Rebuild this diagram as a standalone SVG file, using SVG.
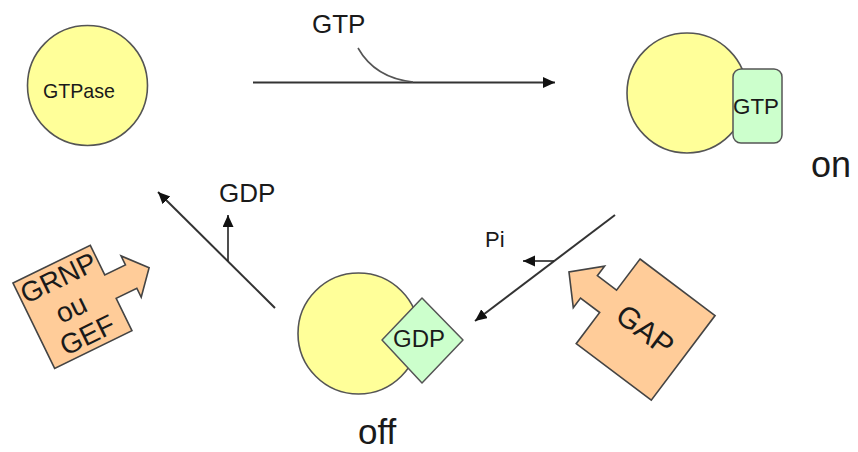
<svg xmlns="http://www.w3.org/2000/svg" width="858" height="452" viewBox="0 0 858 452">
<defs>
<style>
text{font-family:"Liberation Sans",Arial,sans-serif;fill:#1a1a1a}
.prot{fill:#ffff99;stroke:#555;stroke-width:1.6}
.nuc{fill:#ccffcc;stroke:#555;stroke-width:1.5}
.fac{fill:#ffcc99;stroke:#444;stroke-width:1.6}
.ln{fill:none;stroke:#333;stroke-width:2}
.sm{fill:none;stroke:#222;stroke-width:1.6}
</style>
<marker id="ah" markerWidth="13" markerHeight="12" refX="12" refY="5.5" orient="auto" markerUnits="userSpaceOnUse">
<path d="M0,0 L12,5.5 L0,11 z" fill="#111"/>
</marker>
</defs>
<rect width="858" height="452" fill="#fff"/>

<g id="gtpase">
<circle class="prot" cx="87.5" cy="85.5" r="60"/>
<text x="43" y="98" font-size="21" textLength="72" lengthAdjust="spacingAndGlyphs">GTPase</text>
</g>

<g id="gtpase-on">
<circle class="prot" cx="687" cy="93" r="60"/>
<rect class="nuc" x="733" y="69" width="49" height="74" rx="8"/>
<text x="733" y="114" font-size="22" textLength="46" lengthAdjust="spacingAndGlyphs">GTP</text>
</g>
<g id="label-on"><text x="811" y="177" font-size="36">on</text></g>

<g id="gtpase-off">
<circle class="prot" cx="358.5" cy="333.5" r="60.5"/>
<path class="nuc" d="M422,298 L463,340 L422,383 L382,340 z" stroke-linejoin="round"/>
<text x="393" y="347" font-size="23" textLength="52" lengthAdjust="spacingAndGlyphs">GDP</text>
</g>
<g id="label-off"><text x="358" y="444" font-size="35">off</text></g>

<g id="gap" transform="translate(640,259) rotate(37)">
<path class="fac" d="M0,0 L94,0 L94,106 L0,106 L0,67 L-24,67 L-24,79 L-49,53 L-24,27 L-24,39 L0,39 z"/>
<text x="47" y="64" font-size="30" text-anchor="middle">GAP</text>
</g>

<g id="gef" transform="translate(13,283) rotate(-26)">
<path class="fac" d="M0,0 L86,0 L86,33 L109,33 L109,23 L129,46 L109,69 L109,59 L86,59 L86,95 L0,95 z"/>
<text x="43" y="25" font-size="28" text-anchor="middle">GRNP</text>
<text x="41" y="58" font-size="28" text-anchor="middle">ou</text>
<text x="44" y="89" font-size="28" text-anchor="middle">GEF</text>
</g>

<g id="connectors">
<line class="ln" x1="253" y1="82.5" x2="555" y2="82.5" marker-end="url(#ah)"/>
<path d="M358,48 Q375,78 413,82" fill="none" stroke="#555" stroke-width="1.6"/>
<line class="ln" x1="615" y1="215" x2="475" y2="321" marker-end="url(#ah)"/>
<line class="sm" x1="554" y1="261" x2="523" y2="261" marker-end="url(#ah)"/>
<line class="ln" x1="275" y1="308" x2="158" y2="192" marker-end="url(#ah)"/>
<line class="sm" x1="228" y1="261" x2="228" y2="215" marker-end="url(#ah)"/>
</g>

<g id="labels">
<text x="312" y="33" font-size="26">GTP</text>
<text x="219" y="202" font-size="26">GDP</text>
<text x="485" y="247" font-size="22">Pi</text>
</g>
</svg>
